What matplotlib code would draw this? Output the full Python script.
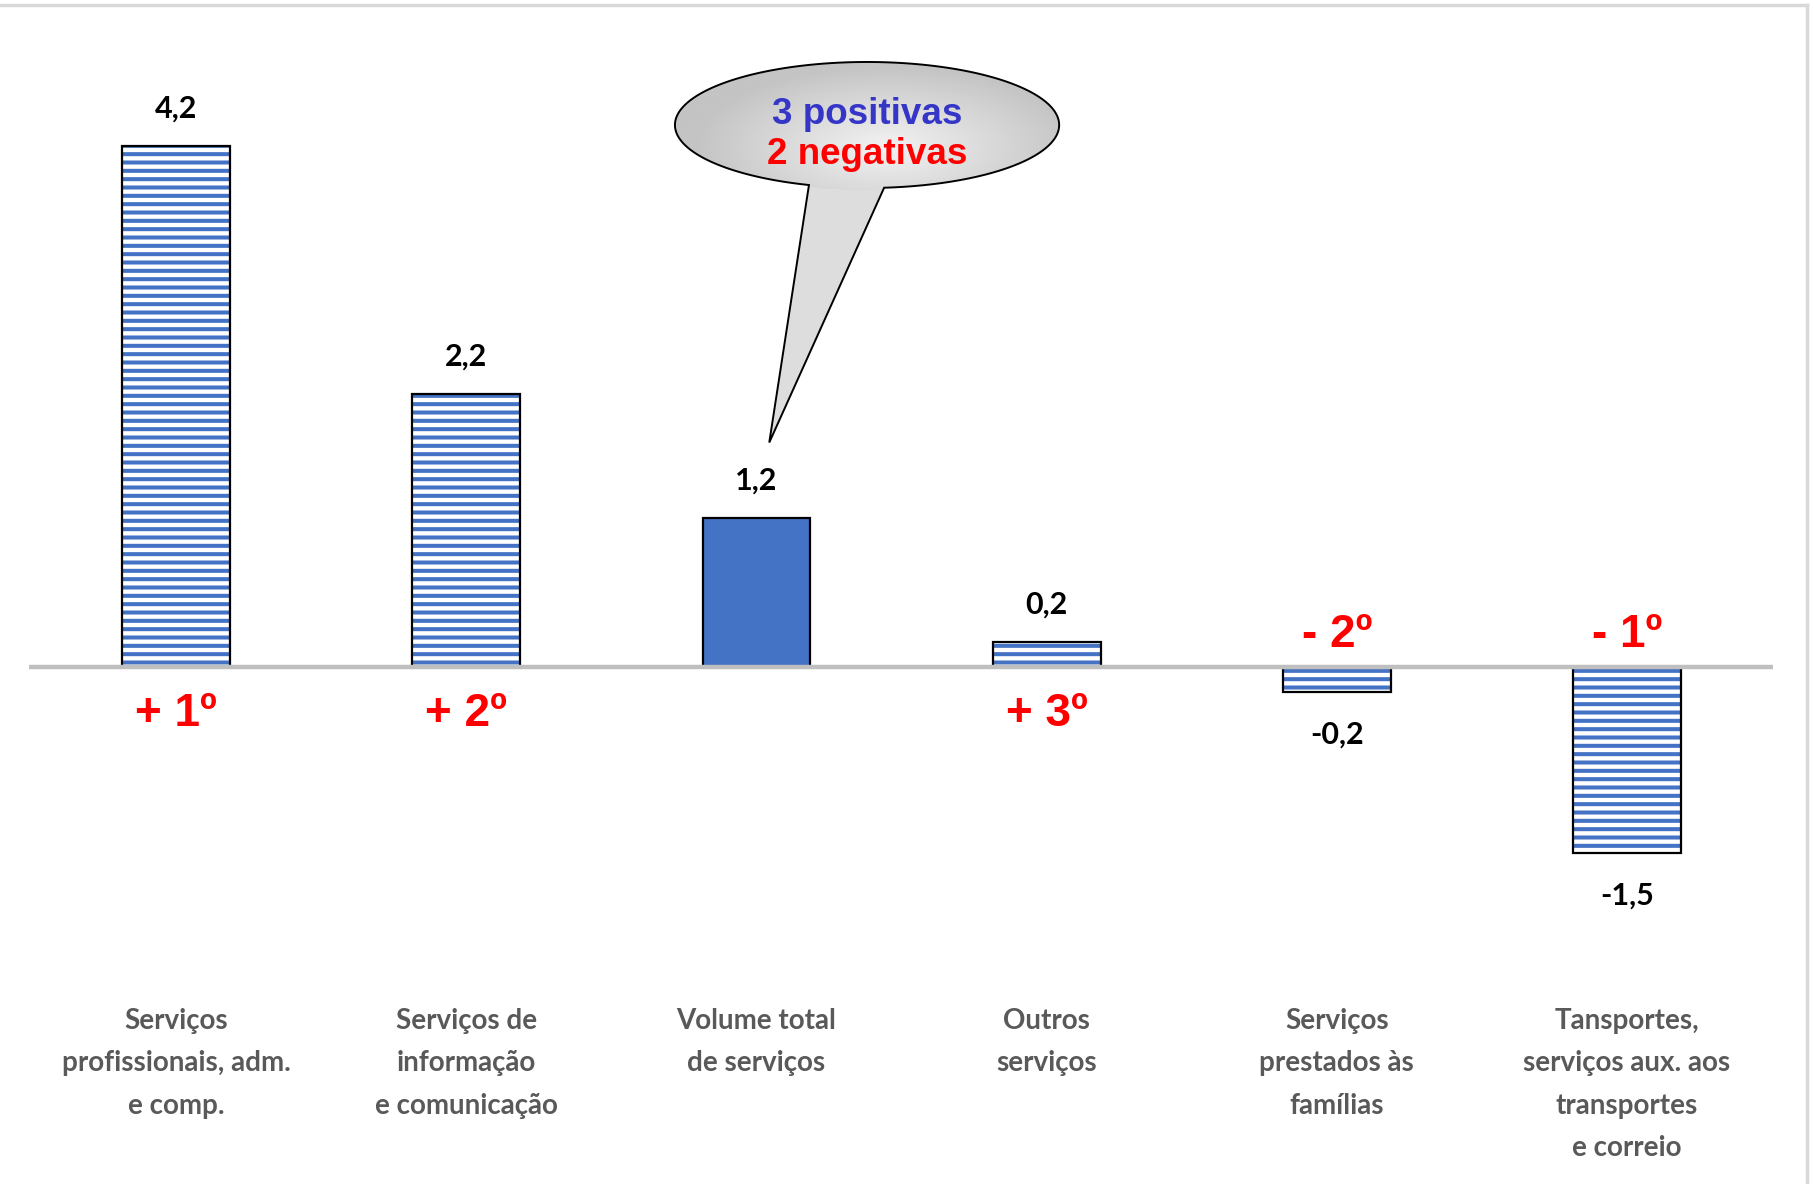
import numpy as np
import matplotlib
matplotlib.use("Agg")
import matplotlib.pyplot as plt
from matplotlib.patches import PathPatch
from matplotlib.path import Path
from matplotlib.colors import LinearSegmentedColormap
from matplotlib.lines import Line2D


categories = [
    "Serviços\nprofissionais, adm.\ne comp.",
    "Serviços de\ninformação\ne comunicação",
    "Volume total\nde serviços",
    "Outros\nserviços",
    "Serviços\nprestados às\nfamílias",
    "Tansportes,\nserviços aux. aos\ntransportes\ne correio",
]
values = [4.2, 2.2, 1.2, 0.2, -0.2, -1.5]
value_labels = ["4,2", "2,2", "1,2", "0,2", "-0,2", "-1,5"]
ranks = ["+ 1º", "+ 2º", "", "+ 3º", "- 2º", "- 1º"]
total_idx = 2
bubble_lines = ["3 positivas", "2 negativas"]

BLUE = "#4472C4"
CALIBRI = "Lato"
ARIAL = "Liberation Sans"

plt.rcParams["hatch.linewidth"] = 2.9

fig = plt.figure(figsize=(18.13, 11.84), dpi=100)
ax = fig.add_axes([29 / 1813, (1184 - 990) / 1184, 1744 / 1813, 930 / 1184])

x = np.arange(len(values))
width = 0.372
ax.set_xlim(-0.507, 5.503)
ax.set_ylim(-2.605, 4.895)

for i, v in enumerate(values):
    if i == total_idx:
        ax.bar(x[i], v, width, color=BLUE, edgecolor="black", linewidth=1.6, zorder=2)
    else:
        ax.bar(x[i], v, width, color="white", edgecolor=BLUE, hatch="--", linewidth=0, zorder=2)
        ax.bar(x[i], v, width, fill=False, edgecolor="black", linewidth=1.6, zorder=3)

ax.axhline(0, color="#BFBFBF", linewidth=3.2, zorder=4)

for i, v in enumerate(values):
    off = 27 if v >= 0 else -31
    ax.annotate(value_labels[i], (x[i], v), xytext=(0, off), textcoords="offset points",
                ha="center", va="center", fontsize=22, fontweight="bold",
                family=CALIBRI, color="black")
    if ranks[i]:
        roff = -34 if v >= 0 else 23
        ax.annotate(ranks[i], (x[i], 0), xytext=(0, roff), textcoords="offset points",
                    ha="center", va="center", fontsize=33, fontweight="bold",
                    family=ARIAL, color="#FF0000")

ax.set_xticks(x)
ax.set_xticklabels(categories, fontsize=20, fontweight="bold", family=CALIBRI,
                   color="#595959", linespacing=1.78)
ax.tick_params(axis="x", length=0, pad=13)
ax.set_yticks([])
for s in ax.spines.values():
    s.set_visible(False)

# speech bubble pointing at the total bar
cx, cy = 2.381, 4.371
a, b = 0.662, 0.508
t = np.radians(np.linspace(-84.9, 252.4, 300))
outline = np.column_stack([cx + a * np.cos(t), cy + b * np.sin(t)])
tip = [x[total_idx] + 0.044, values[total_idx] + 0.61]
verts = np.vstack([outline, tip, outline[:1]])
codes = [Path.MOVETO] + [Path.LINETO] * (len(verts) - 2) + [Path.CLOSEPOLY]
patch = PathPatch(Path(verts, codes), facecolor="none", edgecolor="black", linewidth=1.4, zorder=6)
ax.add_patch(patch)

gx = np.linspace(cx - a, cx + a, 300)
gy = np.linspace(tip[1], cy + b, 300)
GX, GY = np.meshgrid(gx, gy)
r_e = np.sqrt(((GX - cx) / a) ** 2 + ((GY - cy) / b) ** 2)
r_g = np.sqrt(((GX - cx - 0.1 * a) / a) ** 2 + ((GY - (cy - 0.35 * b)) / (1.3 * b)) ** 2)
shade = np.where(r_e <= 1.03, np.clip(r_g, 0, 1), 0.45)
cmap = LinearSegmentedColormap.from_list("bub", ["#F3F3F3", "#C4C4C4"])
img = ax.imshow(shade, extent=[gx[0], gx[-1], gy[0], gy[-1]], origin="lower",
                cmap=cmap, vmin=0, vmax=1, aspect="auto", zorder=5, interpolation="bilinear")
img.set_clip_path(patch)

ax.text(cx, cy + 0.085, bubble_lines[0], ha="center", va="center", fontsize=26.5,
        fontweight="bold", family=ARIAL, color="#3535C8", zorder=7)
ax.text(cx, cy - 0.24, bubble_lines[1], ha="center", va="center", fontsize=26.5,
        fontweight="bold", family=ARIAL, color="#FF0000", zorder=7)

# light frame at top and right
fig.add_artist(Line2D([0, 1807 / 1813], [1 - 5 / 1184, 1 - 5 / 1184], color="#D9D9D9", linewidth=2.5))
fig.add_artist(Line2D([1807 / 1813, 1807 / 1813], [1 - 5 / 1184, 0], color="#D9D9D9", linewidth=2.5))

fig.savefig("out.png", dpi=100)
